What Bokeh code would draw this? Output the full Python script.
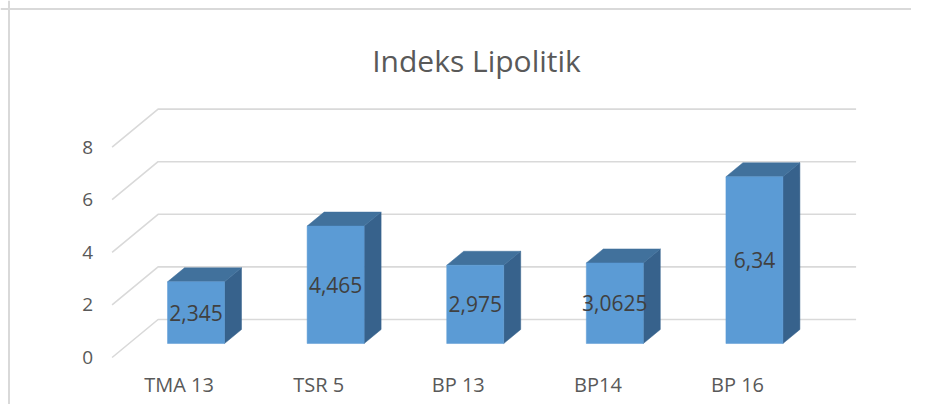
from bokeh.plotting import figure
from bokeh.models import ColumnDataSource, Range1d, Span
from bokeh.embed import file_html
from bokeh.resources import INLINE
from bokeh.core.properties import value

# ---- data ----
categories = ["TMA 13", "TSR 5", "BP 13", "BP14", "BP 16"]
values = [2.345, 4.465, 2.975, 3.0625, 6.34]
value_labels = ["2,345", "4,465", "2,975", "3,0625", "6,34"]
y_ticks = [0, 2, 4, 6, 8]
tick_labels = ["0", "2", "4", "6", "8"]
title_text = "Indeks Lipolitik"

# ---- layout ----
W, H = 911, 404
KX = 139.6          # px per category
KY = 26.3           # px per value unit
X0 = -178.6 / KX
Y1 = 357 / KY
x_range = Range1d(X0, X0 + W / KX)
y_range = Range1d(Y1 - H / KY, Y1)

DX, DY = 46 / KX, 38 / KY      # full depth of the 3D box (data units)
TF, TB = 0.368, 0.737          # bar front / back depth fraction
HW = 28.5 / KX                 # bar half width
XL, XR = -0.48, 4.52           # wall extent (front plane)

FRONT = "#5B9BD5"
TOP = "#41719C"
SIDE = "#37628C"
GRID = "#D9D9D9"
TXT = "#595959"
FONT = value("Open Sans")


def pt(x, v, t):
    return x + t * DX, v + t * DY


p = figure(width=W, height=H, x_range=x_range, y_range=y_range,
           output_backend="svg", toolbar_location=None, min_border=0)
p.axis.visible = False
p.grid.visible = False
p.outline_line_color = None
p.background_fill_color = "white"

# chart border (left and top)
p.add_layout(Span(location=X0 + 8.5 / KX, dimension="height", line_color=GRID, line_width=2))
p.add_layout(Span(location=Y1 - 8.5 / KY, dimension="width", line_color=GRID, line_width=2))

# gridlines: side wall diagonal + back wall horizontal
gx, gy = [], []
for v in y_ticks:
    a = pt(XL, v, 0)
    b = pt(XL, v, 1)
    c = pt(XR, v, 1)
    gx.append([a[0], b[0], c[0]])
    gy.append([a[1], b[1], c[1]])
p.multi_line(gx, gy, line_color=GRID, line_width=1.6)

# bars
fx, fy, tx, ty, sx, sy = [], [], [], [], [], []
for i, v in enumerate(values):
    xl, xr = i - HW, i + HW
    f = [pt(xl, 0, TF), pt(xr, 0, TF), pt(xr, v, TF), pt(xl, v, TF)]
    t = [pt(xl, v, TF), pt(xr, v, TF), pt(xr, v, TB), pt(xl, v, TB)]
    s = [pt(xr, 0, TF), pt(xr, 0, TB), pt(xr, v, TB), pt(xr, v, TF)]
    fx.append([q[0] for q in f]); fy.append([q[1] for q in f])
    tx.append([q[0] for q in t]); ty.append([q[1] for q in t])
    sx.append([q[0] for q in s]); sy.append([q[1] for q in s])
p.patches(sx, sy, fill_color=SIDE, line_color=SIDE, line_width=0.5)
p.patches(tx, ty, fill_color=TOP, line_color=TOP, line_width=0.5)
p.patches(fx, fy, fill_color=FRONT, line_color=FRONT, line_width=0.5)

# data labels
lab = ColumnDataSource(dict(
    x=[i + TF * DX for i in range(len(values))],
    y=[v / 2 + TF * DY for v in values],
    t=value_labels))
p.text(x="x", y="y", text="t", source=lab, text_font=FONT, text_font_size="21px",
       text_color="#404040", text_align="center", text_baseline="middle")

# y tick labels
tk = ColumnDataSource(dict(x=[XL - 19 / KX] * len(y_ticks), y=y_ticks, t=tick_labels))
p.text(x="x", y="y", text="t", source=tk, text_font=FONT, text_font_size="19px",
       text_color=TXT, text_align="right", text_baseline="middle")

# category labels
cs = ColumnDataSource(dict(x=list(range(len(categories))),
                           y=[-27 / KY] * len(categories), t=categories))
p.text(x="x", y="y", text="t", source=cs, text_font=FONT, text_font_size="20px",
       text_color=TXT, text_align="center", text_baseline="middle")

# title
p.text(x=[X0 + 476 / KX], y=[Y1 - 60 / KY], text=[title_text], text_font=FONT,
       text_font_size="30px", text_color=TXT, text_align="center",
       text_baseline="alphabetic")

open("out.html", "w").write(file_html(p, INLINE))
